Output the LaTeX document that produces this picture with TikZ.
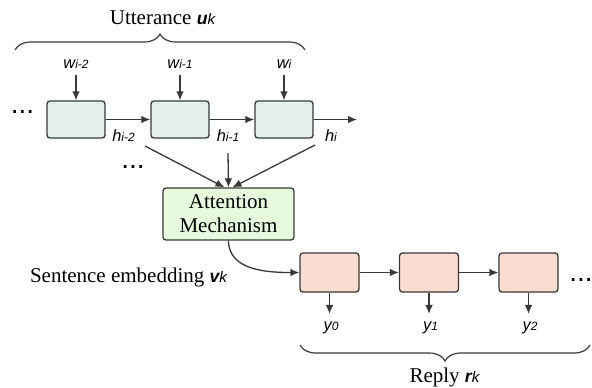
\documentclass[tikz,border=0pt]{standalone}
\usepackage{fontspec}
\setmainfont{Liberation Serif}
\newfontfamily\arialfont{Liberation Sans}
\usepackage{xcolor}
\usetikzlibrary{arrows.meta, positioning, calc, decorations.pathreplacing}
\tikzset{>=Latex}

\definecolor{linegray}{HTML}{383838}
\definecolor{encfill}{HTML}{E4F0EC}
\definecolor{attfill}{HTML}{E6FADD}
\definecolor{decfill}{HTML}{F8DDD0}

% Beschriftungen: kursive Grotesk mit kleinem Index
\newcommand{\seqlbl}[2]{{\arialfont\itshape\fontsize{8.2}{9}\selectfont #1{\fontsize{6}{6}\selectfont #2}}}
\newcommand{\veclbl}[2]{{\arialfont\itshape\fontsize{8.8}{9}\selectfont\textbf{#1}{\fontsize{7.6}{8}\selectfont #2}}}

\begin{document}
\begin{tikzpicture}[x=0.5pt,y=0.5pt]

         %%%%%%%%%%%%%%%%%%%%%%%%%%%%%%%%%%%%%%%%%%%%%%%%%%%%%%%%%%%%%%%%%%%%%%
         % Parameter
         %%%%%%%%%%%%%%%%%%%%%%%%%%%%%%%%%%%%%%%%%%%%%%%%%%%%%%%%%%%%%%%%%%%%%%
         \def\uy{-119.5}
         \def\ry{-272.5}

         \tikzset{
            cell/.style={
            draw=linegray, line width=0.65pt, rounded corners=1.5pt,
            minimum width=29pt, minimum height=18.5pt, inner sep=0pt
            },
            enc/.style={cell, fill=encfill},
            dec/.style={cell, fill=decfill, minimum width=29.5pt, minimum height=19.5pt},
            lbl/.style={inner sep=3.5pt, anchor=base},
            arr/.style={line width=0.65pt, draw=linegray, -{Latex[length=4.5pt,width=3.8pt]}},
            brc/.style={decorate, decoration={brace, amplitude=8pt}, line width=0.6pt, draw=linegray},
            txt/.style={font=\fontsize{10.5}{12}\selectfont, inner sep=0pt, anchor=base},
            dots/.style={font=\arialfont\fontsize{14}{14}\selectfont, inner sep=0pt, anchor=base}
         }

         \useasboundingbox (0,0) rectangle (592,-387);

         %%%%%%%%%%%%%%%%%%%%%%%%%%%%%%%%%%%%%%%%%%%%%%%%%%%%%%%%%%%%%%%%%%%%%%
         % Encoder (Utterance)
         %%%%%%%%%%%%%%%%%%%%%%%%%%%%%%%%%%%%%%%%%%%%%%%%%%%%%%%%%%%%%%%%%%%%%%
         \node[txt] (utt) at (162.5,-24) {Utterance \veclbl{u}{k}};
         \draw[brc] (15,-50) -- (305,-50);

         \node[enc] (u1) at (76,\uy) {};
         \node[enc] (u2) at (180,\uy) {};
         \node[enc] (u3) at (284,\uy) {};

         \node[lbl] (w1) at (76,-68) {\seqlbl{w}{i-2}};
         \node[lbl] (w2) at (180,-68) {\seqlbl{w}{i-1}};
         \node[lbl] (w3) at (284,-68) {\seqlbl{w}{i}};

         \draw[arr] (w1.south) -- (u1.north);
         \draw[arr] (w2.south) -- (u2.north);
         \draw[arr] (w3.south) -- (u3.north);

         \coordinate (hout) at (357,\uy);
         \draw[arr] (u1) -- (u2);
         \draw[arr] (u2) -- (u3);
         \draw[arr] (u3) -- (hout);

         \node[lbl] (h1) at (123.5,-141) {\seqlbl{h}{i-2}};
         \node[lbl] (h2) at (228,-141) {\seqlbl{h}{i-1}};
         \node[lbl] (h3) at (331,-141) {\seqlbl{h}{i}};

         \node[dots] (ldots) at (22.5,-113.5) {...};
         \node[dots] (mdots) at (133,-168.5) {...};

         %%%%%%%%%%%%%%%%%%%%%%%%%%%%%%%%%%%%%%%%%%%%%%%%%%%%%%%%%%%%%%%%%%%%%%
         % Attention
         %%%%%%%%%%%%%%%%%%%%%%%%%%%%%%%%%%%%%%%%%%%%%%%%%%%%%%%%%%%%%%%%%%%%%%
         \node[draw=linegray, fill=attfill, line width=0.65pt, rounded corners=1.5pt,
               minimum width=65.5pt, minimum height=26pt, inner sep=0pt, align=center,
               font=\fontsize{10.5}{12}\selectfont] (att) at (228.5,-214) {Attention\\Mechanism};

         \coordinate (s1) at (145,-146);
         \coordinate (s2) at (228,-153);
         \coordinate (s3) at (315,-145);
         \draw[arr] (s1) -- ([xshift=-2pt]att.north);
         \draw[arr] (s2) -- (att.north);
         \draw[arr] (s3) -- ([xshift=2pt]att.north);

         \node[txt] (emb) at (128.5,-282) {Sentence embedding \veclbl{v}{k}};

         %%%%%%%%%%%%%%%%%%%%%%%%%%%%%%%%%%%%%%%%%%%%%%%%%%%%%%%%%%%%%%%%%%%%%%
         % Decoder (Reply)
         %%%%%%%%%%%%%%%%%%%%%%%%%%%%%%%%%%%%%%%%%%%%%%%%%%%%%%%%%%%%%%%%%%%%%%
         \node[dec] (r0) at (329.5,\ry) {};
         \node[dec] (r1) at (429,\ry) {};
         \node[dec] (r2) at (528.5,\ry) {};

         \draw[arr] (att.south) to[out=-90,in=180] (r0.west);
         \draw[arr] (r0) -- (r1);
         \draw[arr] (r1) -- (r2);

         \node[dots] (rdots) at (581,-281.5) {...};

         \node[lbl] (y0) at (331,-330) {\seqlbl{y}{0}};
         \node[lbl] (y1) at (430.5,-330) {\seqlbl{y}{1}};
         \node[lbl] (y2) at (530,-330) {\seqlbl{y}{2}};

         \draw[arr] (r0.south) -- (r0.south |- y0.north);
         \draw[arr] (r1.south) -- (r1.south |- y1.north);
         \draw[arr] (r2.south) -- (r2.south |- y2.north);

         \draw[brc] (590,-345) -- (300,-345);
         \node[txt] (rep) at (444.5,-382) {Reply \veclbl{r}{k}};

\end{tikzpicture}
\end{document}
